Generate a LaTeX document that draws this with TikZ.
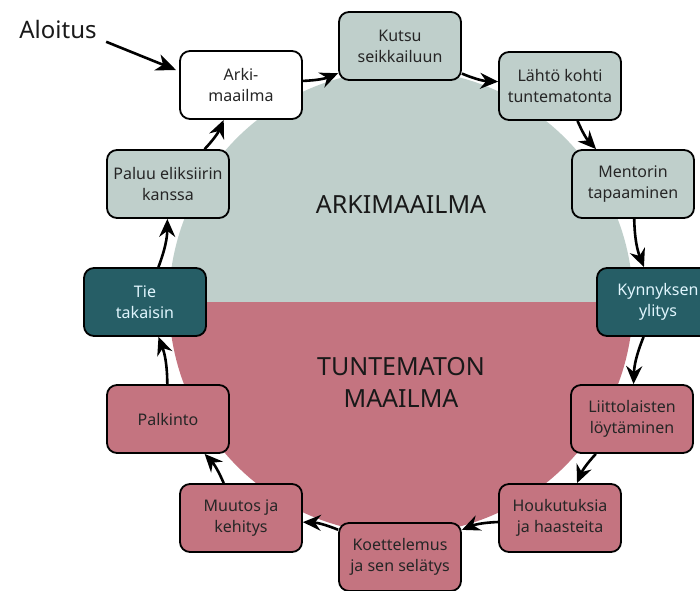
\documentclass[tikz,border=0pt]{standalone}
\usepackage{fontspec}
\setmainfont{Noto Sans}
\usetikzlibrary{arrows.meta}
\definecolor{arkivari}{HTML}{BFCFCB}
\definecolor{tuntvari}{HTML}{C47480}
\definecolor{kynnysvari}{HTML}{265E66}
\tikzset{
  vaihe/.style={draw=black,line width=1.8pt,rounded corners=10pt,minimum width=122pt,
    minimum height=68pt,align=center,text=black!85,font=\fontsize{16}{21}\selectfont},
  nuoli/.style={line width=2.6pt,-{Stealth[length=18pt,width=16pt,inset=6pt]}}
}
\begin{document}
\begin{tikzpicture}[x=1pt,y=-1pt]
\useasboundingbox (0,0) rectangle (700,590);
% the two worlds
\fill[arkivari] (169,302) arc[start angle=180,end angle=360,radius=232] -- cycle;
\fill[tuntvari] (169,302) arc[start angle=180,end angle=0,radius=232] -- cycle;
\node[font=\fontsize{25}{32}\selectfont,text=black!90] (arkim) at (401,205) {ARKIMAAILMA};
\node[font=\fontsize{25}{32}\selectfont,text=black!90,align=center] (tuntm) at (401,382) {TUNTEMATON\\MAAILMA};
% stages
\node[vaihe,fill=white] (arki) at (241,85) {Arki-\\maailma};
\node[vaihe,fill=arkivari] (kutsu) at (400,46) {Kutsu\\seikkailuun};
\node[vaihe,fill=arkivari] (lahto) at (560,86) {Lähtö kohti\\tuntematonta};
\node[vaihe,fill=arkivari] (mentori) at (633,184) {Mentorin\\tapaaminen};
\node[vaihe,fill=kynnysvari,text=white!88!cyan] (kynnys) at (658,302) {Kynnyksen\\ylitys};
\node[vaihe,fill=tuntvari] (liitto) at (632,419) {Liittolaisten\\löytäminen};
\node[vaihe,fill=tuntvari] (houkutus) at (560,518) {Houkutuksia\\ja haasteita};
\node[vaihe,fill=tuntvari] (koettelemus) at (400,557) {Koettelemus\\ja sen selätys};
\node[vaihe,fill=tuntvari] (muutos) at (241,518) {Muutos ja\\kehitys};
\node[vaihe,fill=tuntvari] (palkinto) at (168,419) {Palkinto};
\node[vaihe,fill=kynnysvari,text=white!88!cyan] (tie) at (145,302) {Tie\\takaisin};
\node[vaihe,fill=arkivari] (paluu) at (168,184) {Paluu eliksiirin\\kanssa};
% the journey
\draw[nuoli] (arki) to[bend right=10] (kutsu);
\draw[nuoli] (kutsu) to[bend right=10] (lahto);
\draw[nuoli] (lahto) to[bend right=10] (mentori);
\draw[nuoli] (mentori) to[bend right=10] (kynnys);
\draw[nuoli] (kynnys) to[bend right=10] (liitto);
\draw[nuoli] (liitto) to[bend right=10] (houkutus);
\draw[nuoli] (houkutus) to[bend right=10] (koettelemus);
\draw[nuoli] (koettelemus) to[bend right=10] (muutos);
\draw[nuoli] (muutos) to[bend right=10] (palkinto);
\draw[nuoli] (palkinto) to[bend right=10] (tie);
\draw[nuoli] (tie) to[bend right=10] (paluu);
\draw[nuoli] (paluu) to[bend right=10] (arki);
% start
\node[font=\fontsize{24}{28}\selectfont,text=black!90] (aloitus) at (58,29) {Aloitus};
\coordinate (alkuun) at (176,70);
\draw[line width=2.6pt,-{Stealth[length=20pt,width=17pt,inset=6pt]}] ([xshift=6pt]aloitus.south east) -- (alkuun);
\end{tikzpicture}
\end{document}
